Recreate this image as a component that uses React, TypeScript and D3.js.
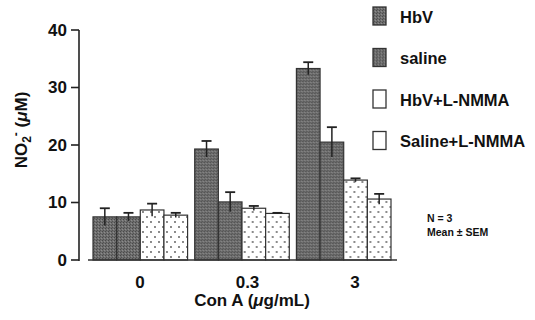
import React from "react";
import * as d3 from "d3";

const groups = ["0", "0.3", "3"];
const seriesNames = ["HbV", "saline", "HbV+L-NMMA", "Saline+L-NMMA"];
// mean and SEM for each series, one entry per Con A dose
const hbv = [7.5, 19.3, 33.3];
const hbvErr = [1.5, 1.4, 1.1];
const saline = [7.5, 10.1, 20.5];
const salineErr = [0.7, 1.7, 2.6];
const hbvNmma = [8.7, 9.0, 13.9];
const hbvNmmaErr = [1.1, 0.4, 0.3];
const salineNmma = [7.8, 8.1, 10.6];
const salineNmmaErr = [0.4, 0.1, 0.9];
const yTicks = [0, 10, 20, 30, 40];

const values = [hbv, saline, hbvNmma, salineNmma];
const errors = [hbvErr, salineErr, hbvNmmaErr, salineNmmaErr];
const fills = ["url(#gray)", "url(#gray)", "url(#dots)", "url(#dots)"];

const font = "'Liberation Sans', Arial, sans-serif";

const App = () => {
  const y = d3.scaleLinear().domain([0, 40]).range([260, 30]);
  const x = d3.scaleBand().domain(groups).range([93, 391]).paddingInner(0.07);
  const xs = d3
    .scaleBand()
    .domain(seriesNames)
    .range([0, x.bandwidth()])
    .padding(0);
  // tick labels sit a little to the right of the bar groups in the original
  const xLabel = d3.scalePoint().domain(groups).range([140, 355]);

  return (
    <svg
      width={535}
      height={320}
      style={{ position: "absolute", left: 0, top: 0, background: "#fff" }}
      fontFamily={font}
      fontWeight="bold"
    >
      <defs>
        <pattern id="gray" width={3} height={3} patternUnits="userSpaceOnUse">
          <rect width={3} height={3} fill="#6e6e6e" />
          <rect x={0} y={0} width={1} height={1} fill="#4a4a4a" />
          <rect x={2} y={1} width={1} height={1} fill="#8c8c8c" />
          <rect x={1} y={2} width={1} height={1} fill="#525252" />
        </pattern>
        <pattern id="dots" width={8} height={10} patternUnits="userSpaceOnUse">
          <rect width={8} height={10} fill="#fff" />
          <circle cx={2} cy={2} r={0.9} fill="#555" />
          <circle cx={6} cy={7} r={0.9} fill="#555" />
        </pattern>
      </defs>

      {/* y axis */}
      <line x1={79} x2={79} y1={y(40)} y2={y(0) + 1} stroke="#222" strokeWidth={1.6} />
      {yTicks.map((t) => (
        <g key={t}>
          <line x1={71} x2={79} y1={y(t)} y2={y(t)} stroke="#222" strokeWidth={1.6} />
          <text x={67} y={y(t)} dy="0.35em" textAnchor="end" fontSize={17} fill="#111">
            {t}
          </text>
        </g>
      ))}

      {/* bars */}
      {groups.map((g, gi) => (
        <g key={g} transform={`translate(${x(g)},0)`}>
          {seriesNames.map((s, si) => {
            const v = values[si][gi];
            const e = errors[si][gi];
            const bx = xs(s)!;
            const cx = bx + xs.bandwidth() / 2;
            return (
              <g key={s}>
                <rect
                  x={bx}
                  y={y(v)}
                  width={xs.bandwidth()}
                  height={y(0) - y(v)}
                  fill={fills[si]}
                  stroke="#333"
                  strokeWidth={1.2}
                />
                <line x1={cx} x2={cx} y1={y(v + e)} y2={y(v - e)} stroke="#222" strokeWidth={1.5} />
                <line x1={cx - 5} x2={cx + 5} y1={y(v + e)} y2={y(v + e)} stroke="#222" strokeWidth={1.8} />
              </g>
            );
          })}
        </g>
      ))}

      {/* baseline */}
      <line x1={88} x2={397} y1={y(0)} y2={y(0)} stroke="#333" strokeWidth={1.4} />

      {/* x labels */}
      {groups.map((g) => (
        <text key={g} x={xLabel(g)} y={288} textAnchor="middle" fontSize={17} fill="#111">
          {g}
        </text>
      ))}
      <text x={252} y={306} textAnchor="middle" fontSize={17} fill="#111">
        Con A (<tspan fontStyle="italic">μ</tspan>g/mL)
      </text>

      {/* y title */}
      <text
        transform="translate(27,130) rotate(-90)"
        textAnchor="middle"
        fontSize={17}
        fill="#111"
      >
        NO<tspan fontSize={12} dy={4}>2</tspan>
        <tspan fontSize={12} dy={-11}>-</tspan>
        <tspan dy={7}> (</tspan>
        <tspan fontStyle="italic">μ</tspan>M)
      </text>

      {/* legend */}
      {seriesNames.map((s, i) => (
        <g key={s} transform={`translate(373,${7 + i * 41.5})`}>
          <rect width={13} height={18} fill={i < 2 ? "url(#gray)" : "#fff"} stroke="#333" strokeWidth={1.3} />
          <text x={27} y={10} dy="0.35em" fontSize={16.5} fill="#111">
            {s}
          </text>
        </g>
      ))}

      <text x={427} y={222} fontSize={10.5} fill="#111">N = 3</text>
      <text x={427} y={236} fontSize={10.5} fill="#111">Mean ± SEM</text>
    </svg>
  );
};

export default App;
